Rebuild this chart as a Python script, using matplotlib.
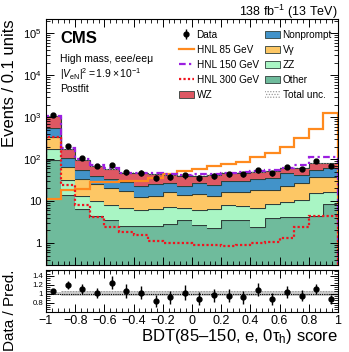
import numpy as np
import matplotlib
matplotlib.use("Agg")
import matplotlib.pyplot as plt
from matplotlib.patches import Patch
from matplotlib.lines import Line2D
from matplotlib.ticker import MultipleLocator, LogLocator, FixedLocator, NullFormatter, FuncFormatter

plt.rcParams['font.family'] = ['Liberation Sans', 'DejaVu Sans']
plt.rcParams['mathtext.fontset'] = 'custom'
plt.rcParams['mathtext.rm'] = 'Liberation Sans'
plt.rcParams['mathtext.it'] = 'Liberation Sans:italic'
plt.rcParams['hatch.color'] = '#9a9a9a'
plt.rcParams['hatch.linewidth'] = 0.6

# binning of the BDT score
edges = np.linspace(-1, 1, 21)
centers = 0.5 * (edges[1:] + edges[:-1])

# backgrounds, postfit (events / 0.1 units), stacked bottom -> top
other = np.array([96, 14, 6.5, 4.5, 3.5, 2.5, 2.5, 2.6, 2.8, 3.5, 2.7, 2.3, 3.6, 3.6, 2.45, 3.9, 4.25, 4.25, 4.3, 8.5])
zz = np.array([79, 18, 7, 5.5, 4.5, 4.5, 3.6, 4.0, 4.3, 3.2, 3.4, 4.1, 4.5, 4.0, 4.25, 4.6, 5.35, 6.35, 11.0, 8.2])
vgamma = np.array([163, 33, 20, 15, 12, 10.5, 6.2, 7.0, 9.6, 7.3, 8.7, 6.8, 8.6, 9.1, 11.7, 10.2, 13.9, 16.0, 22.7, 21.3])
nonprompt = np.array([218, 41, 22, 15, 14, 11.5, 10.6, 11.4, 9.9, 9, 11.8, 11, 13.9, 13.9, 14.6, 17.3, 24.5, 15.4, 17, 23])
wz = np.array([514, 70, 40, 28, 23, 17, 23.1, 19, 15.4, 17, 13.4, 17.8, 15.4, 17.4, 17, 16, 15, 19, 27, 19])
unc_rel = np.array([0.03, 0.05, 0.05, 0.05, 0.05, 0.05, 0.05, 0.05, 0.05, 0.05, 0.05, 0.05, 0.05, 0.05, 0.05, 0.05, 0.05, 0.05, 0.05, 0.05])

# signals
hnl85 = np.array([11, 18.5, 19, 29, 29, 31, 31, 35, 45, 52, 58, 70, 75, 86, 110, 140, 200, 320, 530, 1290])
hnl150 = np.array([1080, 182, 100, 72, 60, 48, 47, 46, 44, 42, 44, 45, 48, 49, 53, 54, 63, 73, 114, 114])
hnl300 = np.array([330, 24, 8, 4.2, 2.4, 1.8, 1.55, 1.1, 1.0, 1.0, 0.9, 0.88, 0.86, 0.9, 1.0, 1.07, 1.3, 2.45, 4.3, 4.3])

# observed
data = np.array([1130, 210, 105, 69, 71, 49, 47, 36.5, 38.5, 41, 35.5, 40.5, 44, 44, 54.5, 46, 65.5, 58.5, 90, 70])

colors = ["#6fbb9c", "#a9f5c4", "#fdc765", "#4293c9", "#dd5863"]
comps = [other, zz, vgamma, nonprompt, wz]
edgec = "#2f3f3a"

fig = plt.figure(figsize=(3.49, 3.52), dpi=100)
ax = fig.add_axes([0.1318, 0.2472, 0.8367, 0.6988])
rax = fig.add_axes([0.1318, 0.1136, 0.8367, 0.1194])

bottom = np.full(20, 1e-3)
for vals, col in zip(comps, colors):
    top = bottom + vals
    ax.stairs(top, edges, baseline=bottom, fill=True, color=col, lw=0)
    ax.stairs(top, edges, color=edgec, lw=0.8)
    bottom = top
total = bottom

ax.stairs(total * (1 + unc_rel), edges, baseline=total * (1 - unc_rel), fill=True,
          facecolor="none", hatch="......", lw=0)

ax.stairs(hnl85, edges, color="#ff8a1e", lw=1.6)
ax.stairs(hnl150, edges, color="#9b1fe0", lw=1.6, ls=(0, (3, 1.5, 1, 1.5)))
ax.stairs(hnl300, edges, color="#f0141e", lw=1.6, ls=(0, (1, 1)))

data_h = ax.errorbar(centers, data, yerr=np.sqrt(data), fmt="o", color="black", ms=3.5, lw=1, capsize=0)

ax.set_yscale("log")
ax.set_xlim(-1, 1)
ax.set_ylim(0.3, 2.2e5)
ax.yaxis.set_major_locator(LogLocator(base=10, numticks=10))
ax.yaxis.set_minor_locator(LogLocator(base=10, subs=np.arange(2, 10), numticks=10))
ax.yaxis.set_minor_formatter(NullFormatter())

def ylab(v, pos):
    if v == 1:
        return "1"
    if v == 10:
        return "10"
    return "$10^{%d}$" % int(round(np.log10(v)))

ax.yaxis.set_major_formatter(FuncFormatter(ylab))
ax.xaxis.set_major_locator(MultipleLocator(0.2))
ax.xaxis.set_minor_locator(MultipleLocator(0.04))
ax.tick_params(axis="x", labelbottom=False)
for a in (ax, rax):
    a.tick_params(which="both", direction="in", top=True, right=True, labelsize=8)
    a.tick_params(which="major", length=6, width=0.7)
    a.tick_params(which="minor", length=3, width=0.6)
    for s in a.spines.values():
        s.set_linewidth(0.8)

ax.set_ylabel("Events / 0.1 units", fontsize=12, ha="right")
ax.yaxis.set_label_coords(-0.098, 1.0)

# ratio panel
ratio = data / total
rax.stairs(1 + unc_rel, edges, baseline=1 - unc_rel, fill=True, facecolor="#d0d0d0",
           hatch="......", lw=0)
rax.axhline(1, color="black", lw=0.8, ls=(0, (1, 1)))
rax.errorbar(centers, ratio, yerr=np.sqrt(data) / total, fmt="o", color="black", ms=3.5, lw=1, capsize=0)
rax.set_xlim(-1, 1)
rax.set_ylim(0.59, 1.53)
rax.yaxis.set_major_locator(FixedLocator([0.8, 1.0, 1.2, 1.4]))
rax.yaxis.set_minor_locator(MultipleLocator(0.05))
rax.yaxis.set_major_formatter(FuncFormatter(lambda v, p: "1" if abs(v - 1) < 1e-6 else "%.1f" % v))
rax.xaxis.set_major_locator(MultipleLocator(0.2))
rax.xaxis.set_minor_locator(MultipleLocator(0.04))
rax.xaxis.set_major_formatter(FuncFormatter(lambda v, p: ("%g" % round(v, 1)).replace("-", "\u2212")))
rax.tick_params(axis="x", labelsize=9, pad=2)
rax.tick_params(axis="y", labelsize=5.6, pad=2)
rax.set_ylabel("Data / Pred.", fontsize=11, ha="right")
rax.yaxis.set_label_coords(-0.098, 1.0)
rax.set_xlabel("BDT(85\u2013150, e, 0\u03c4$_\\mathrm{h}$) score", fontsize=12, ha="right")
rax.xaxis.set_label_coords(1.0, -0.36)

# labels
ax.text(0.048, 0.919, "CMS", transform=ax.transAxes, fontsize=12, fontweight="bold", va="center")
ax.text(0.048, 0.837, "High mass, eee/ee\u03bc", transform=ax.transAxes, fontsize=7.5, va="center")
ax.text(0.048, 0.776, "$|V_{\\mathrm{eN}}|^2 = 1.9\\times10^{-1}$", transform=ax.transAxes, fontsize=7.5, va="center")
ax.text(0.048, 0.715, "Postfit", transform=ax.transAxes, fontsize=7.5, va="center")
fig.text(0.9685, 0.966, "138 fb$^{-1}$ (13 TeV)", ha="right", va="center", fontsize=9)

handles = [
    data_h,
    Line2D([], [], color="#ff8a1e", lw=1.6),
    Line2D([], [], color="#9b1fe0", lw=1.6, ls=(0, (3, 1.5, 1, 1.5))),
    Line2D([], [], color="#f0141e", lw=1.6, ls=(0, (1, 1))),
    Patch(facecolor=colors[4], edgecolor=edgec, lw=0.6),
    Patch(facecolor=colors[3], edgecolor=edgec, lw=0.6),
    Patch(facecolor=colors[2], edgecolor=edgec, lw=0.6),
    Patch(facecolor=colors[1], edgecolor=edgec, lw=0.6),
    Patch(facecolor=colors[0], edgecolor=edgec, lw=0.6),
    Patch(facecolor="white", hatch="......", lw=0),
]
labels = ["Data", "HNL 85 GeV", "HNL 150 GeV", "HNL 300 GeV", "WZ",
          "Nonprompt", "V\u03b3", "ZZ", "Other", "Total unc."]
ax.legend(handles, labels, ncol=2, loc="upper left", bbox_to_anchor=(0.43, 0.985),
          frameon=False, fontsize=7.2, handlelength=1.5, handletextpad=0.3,
          columnspacing=0.6, labelspacing=0.5, borderpad=0.2)

fig.savefig("out.png", dpi=100)
